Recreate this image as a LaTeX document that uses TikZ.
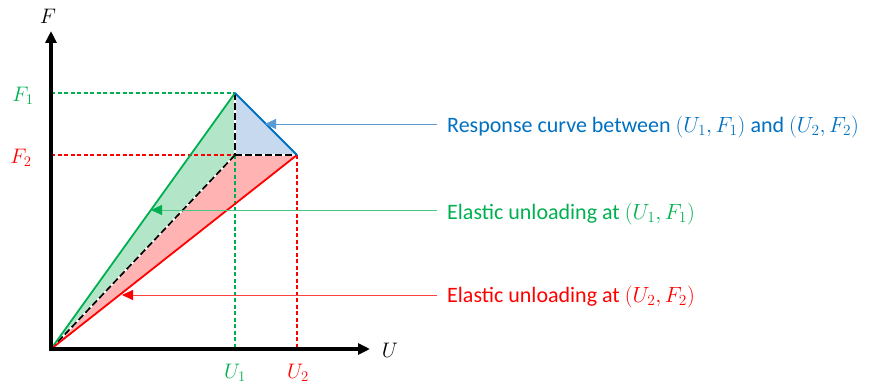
\RequirePackage{fix-cm}
\documentclass[tikz,border=0pt]{standalone}
\usepackage{fontspec}
\setmainfont{Carlito}
\usetikzlibrary{arrows.meta}
\definecolor{cblue}{HTML}{0070C0}
\definecolor{cgreen}{HTML}{00B050}
\definecolor{cred}{HTML}{FF0000}
\definecolor{fblue}{HTML}{C6D9EE}
\definecolor{fgreen}{HTML}{B3E6C9}
\definecolor{fred}{HTML}{FFB3B3}
\definecolor{ablue}{HTML}{5B9BD5}
\tikzset{
  axis/.style={line width=3.5pt,-{Triangle[length=12pt,width=11pt]}},
  guide/.style={line width=1.1pt,dash pattern=on 4pt off 2.5pt},
  curve/.style={line width=1.8pt},
  blackdash/.style={line width=1.7pt,dash pattern=on 7pt off 3pt},
  pointer/.style={line width=1pt,-{Triangle[length=11pt,width=10pt]}},
  lab/.style={font=\fontsize{21}{25}\selectfont,inner sep=0pt},
  txt/.style={font=\fontsize{22}{26}\selectfont,inner sep=0pt,anchor=base west},
}
\begin{document}
\begin{tikzpicture}[x=1pt,y=-1pt]
\useasboundingbox (0,0) rectangle (869,385);
% key points
\coordinate (O) at (51,349);
\coordinate (P1) at (235,93);
\coordinate (P2) at (297,155);
\coordinate (C) at (235,155);
\coordinate (Ytop) at (51,31);
\coordinate (Xend) at (370,349);
\coordinate (F1a) at (51,93);
\coordinate (F2a) at (51,155);
\coordinate (U1a) at (235,349);
\coordinate (U2a) at (297,349);
% fills
\fill[fgreen] (O) -- (P1) -- (C) -- cycle;
\fill[fred] (O) -- (C) -- (P2) -- cycle;
\fill[fblue] (P1) -- (C) -- (P2) -- cycle;
% guides
\draw[guide,color=cgreen] (F1a) -- (P1);
\draw[guide,color=cred] (F2a) -- (C);
\draw[guide,color=cgreen] (C) -- (U1a);
\draw[guide,color=cred] (P2) -- (U2a);
% black dashed
\draw[white,line width=1.7pt] (O) -- (C) (P1) -- (C) -- (P2);
\draw[blackdash] (O) -- (C);
\draw[blackdash] (P1) -- (C);
\draw[blackdash] (C) -- (P2);
% curves
\draw[curve,cgreen] (O) -- (P1);
\draw[curve,cred] (O) -- (P2);
\draw[curve,cblue,line cap=round] (P1) -- (P2);
% axes
\draw[axis] (O) -- (Ytop);
\draw[axis] ([xshift=-1.75pt]O) -- (Xend);
% axis labels
\node[lab] (lF) at (48,16) {$F$};
\node[lab] (lU) at (390,350) {$U$};
\node[lab,text=cgreen] (lF1) at (23,96) {$F_1$};
\node[lab,text=cred] (lF2) at (21,158) {$F_2$};
\node[lab,text=cgreen] (lU1) at (235,373) {$U_1$};
\node[lab,text=cred] (lU2) at (298,373) {$U_2$};
% annotations
\node[txt,text=cblue] (tB) at (447,132) {Response curve between $(U_1,F_1)$ and $(U_2,F_2)$};
\node[txt,text=cgreen] (tG) at (447,219) {Elastic unloading at $(U_1,F_1)$};
\node[txt,text=cred] (tR) at (447,302) {Elastic unloading at $(U_2,F_2)$};
\coordinate (aB) at (437,124);
\coordinate (hB) at (265,124);
\coordinate (aG) at (437,210);
\coordinate (hG) at (151,210);
\coordinate (aR) at (437,295);
\coordinate (hR) at (122,295);
\draw[pointer,ablue] (aB) -- (hB);
\draw[pointer,cgreen!70,-{Triangle[length=11pt,width=10pt,fill=cgreen,color=cgreen]}] (aG) -- (hG);
\draw[pointer,cred!75,-{Triangle[length=11pt,width=10pt,fill=cred,color=cred]}] (aR) -- (hR);
\end{tikzpicture}
\end{document}
